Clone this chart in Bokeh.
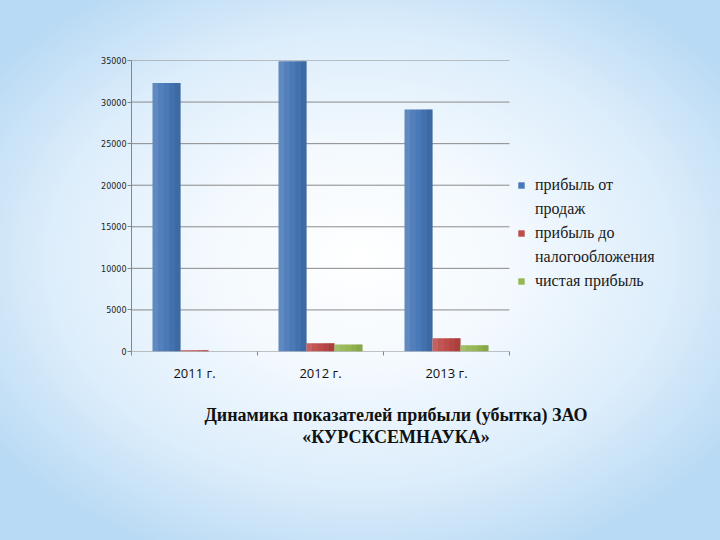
from bokeh.plotting import figure
from bokeh.models import (Range1d, FixedTicker, Legend, LegendItem,
                          ColumnDataSource)
from bokeh.transform import dodge
from bokeh.embed import file_html
from bokeh.resources import INLINE

# data
years = ["2011 г.", "2012 г.", "2013 г."]
sales_profit = [32300, 34900, 29100]      # прибыль от продаж
pretax_profit = [150, 1000, 1600]         # прибыль до налогообложения
net_profit = [0, 850, 750]                # чистая прибыль
legend_lines = [["прибыль от", "продаж"],
                ["прибыль до", "налогообложения"],
                ["чистая прибыль"]]
y_ticks = [0, 5000, 10000, 15000, 20000, 25000, 30000, 35000]
title_lines = ["Динамика показателей прибыли (убытка) ЗАО", "«КУРСКСЕМНАУКА»"]

xs = [i + 0.5 for i in range(len(years))]
source = ColumnDataSource(dict(x=xs, sales=sales_profit,
                               pretax=pretax_profit, net=net_profit))

# the frame reaches past the last category so the legend fits inside it
# (126 px per category, frame 529 px wide)
p = figure(width=720, height=540,
           x_range=Range1d(0, 529 / 126), y_range=Range1d(0, 35000),
           output_backend="svg", toolbar_location=None,
           min_border_left=131, min_border_right=60,
           min_border_top=60, min_border_bottom=189)
p.styles = {"position": "absolute", "top": "0px", "left": "0px",
            "background": "radial-gradient(ellipse 62% 60% at 50% 48%, "
                          "#ffffff 0%, #f3f9fe 35%, #dcedfb 70%, #b9daf4 100%)"}
p.border_fill_alpha = 0
p.background_fill_alpha = 0
p.outline_line_color = None

# horizontal grid lines only across the category area
p.xgrid.grid_line_color = None
p.ygrid.grid_line_color = None
p.segment(x0=0, x1=len(years), y0=y_ticks, y1=y_ticks,
          line_color="#8a8a8a", line_width=1)

# bars: base colour, then thin strips getting darker to the right
w = 0.222
cols = [("sales", -0.222, "#4a79b8", "#2d5487"),
        ("pretax", 0.0, "#bd4d4a", "#8e2e2b"),
        ("net", 0.222, "#97b755", "#6e8c35")]
shade = [(-0.4, 0.2, "#ffffff", 0.12), (-0.2, 0.2, "#ffffff", 0.05),
         (0.2, 0.2, None, 0.2), (0.4, 0.2, None, 0.4)]
bar_renderers = []
for field, off, base, dark in cols:
    r = p.vbar(x=dodge("x", off, range=p.x_range), top=field, width=w,
               source=source, fill_color=base, line_color=None)
    for pos, frac, col, alpha in shade:
        p.vbar(x=dodge("x", off + w * pos, range=p.x_range), top=field,
               width=w * frac, source=source, fill_color=col or dark,
               fill_alpha=alpha, line_color=None)
    bar_renderers.append(r)

# y axis
p.yaxis.ticker = FixedTicker(ticks=y_ticks)
p.yaxis.axis_line_color = "#868686"
p.yaxis.major_tick_line_color = "#868686"
p.yaxis.major_tick_out = 4
p.yaxis.major_tick_in = 0
p.yaxis.minor_tick_line_color = None
p.yaxis.major_label_standoff = 1
p.yaxis.major_label_text_font = "DejaVu Sans"
p.yaxis.major_label_text_font_size = "8px"
p.yaxis.major_label_text_color = "#222222"

# x axis: labels at category centres, ticks on category boundaries
p.xaxis.ticker = FixedTicker(ticks=xs, minor_ticks=list(range(len(years) + 1)))
p.xaxis.major_label_overrides = {x: y for x, y in zip(xs, years)}
p.xaxis.axis_line_color = None
p.xaxis.major_tick_line_color = None
p.xaxis.minor_tick_line_color = "#868686"
p.xaxis.minor_tick_out = 4
p.xaxis.minor_tick_in = 0
p.xaxis.major_label_standoff = 6
p.xaxis.major_label_text_font = "Open Sans"
p.xaxis.major_label_text_font_size = "13px"
p.xaxis.major_label_text_color = "#111111"

# caption under the chart, as the x axis label
p.xaxis.axis_label = "\n".join(title_lines)
p.xaxis.axis_label_standoff = 20
p.xaxis.axis_label_text_font = "Liberation Serif"
p.xaxis.axis_label_text_font_style = "bold"
p.xaxis.axis_label_text_font_size = "18px"
p.xaxis.axis_label_text_line_height = 1.1
p.xaxis.axis_label_text_color = "#111111"

# legend: one row per text line, continuation rows use an empty glyph
items = []
for r, lines in zip(bar_renderers, legend_lines):
    items.append(LegendItem(label=lines[0], renderers=[r]))
    for extra in lines[1:]:
        blank = p.vbar(x=[], top=[], width=w, fill_alpha=0, line_alpha=0)
        items.append(LegendItem(label=extra, renderers=[blank]))
legend = Legend(items=items, location=(386, 60), padding=0, margin=0,
                spacing=4, label_height=20, glyph_width=8, glyph_height=8,
                label_standoff=10, background_fill_alpha=0,
                border_line_color=None,
                label_text_font="Liberation Serif",
                label_text_font_size="16px", label_text_color="#1a1a1a")
p.add_layout(legend, "center")

open("out.html", "w").write(file_html(p, INLINE))
